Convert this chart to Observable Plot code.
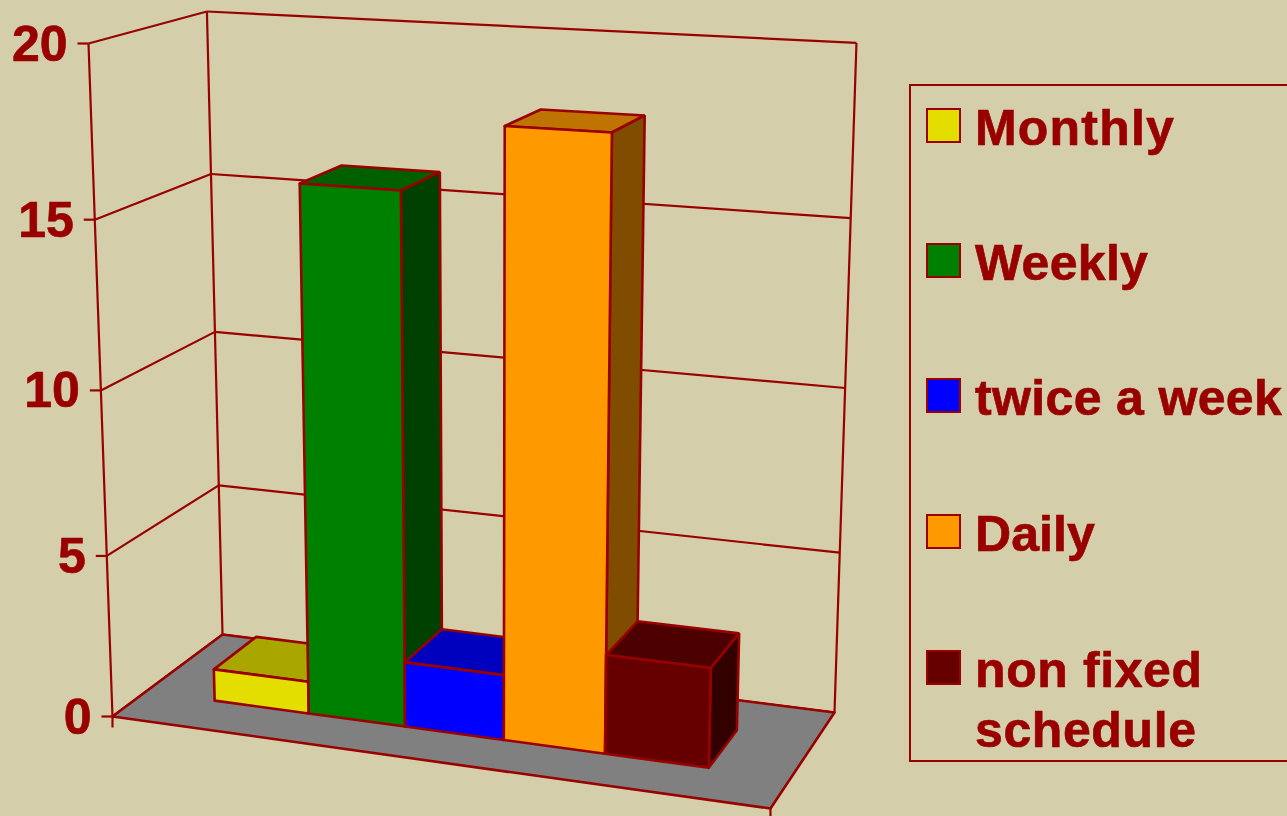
<!DOCTYPE html>
<html>
<head>
<meta charset="utf-8">
<script src="https://cdn.jsdelivr.net/npm/d3@7"></script>
<script src="https://cdn.jsdelivr.net/npm/@observablehq/plot@0.6"></script>
<style>
  html, body { margin: 0; padding: 0; width: 1287px; height: 816px; overflow: hidden; background: #d4cfaa; }
  #page { display: flex; align-items: flex-start; width: 1287px; height: 816px; overflow: hidden; }
  #chart { flex: 0 0 909px; width: 909px; height: 816px; }
  #legend {
    position: relative; flex: 0 0 500px; box-sizing: border-box; margin-top: 84px; height: 678px;
    border: 2px solid #990000; font: bold 50px "Liberation Sans", Arial, sans-serif; color: #990000;
    -webkit-text-stroke: 0.7px #990000;
  }
  .entry { position: absolute; left: 15px; display: flex; align-items: flex-start; }
  .swatch { box-sizing: border-box; width: 35px; height: 35px; border: 2px solid #990000; margin-top: -1px; margin-right: 14px; flex: none; }
  .label { line-height: 60px; margin-top: -11px; white-space: pre-line; }
</style>
</head>
<body>
<div id="page"><div id="chart"></div><div id="legend"></div></div>
<script>
// Data
const categories = ["Monthly", "Weekly", "twice a week", "Daily", "non fixed\nschedule"];
const values = [1, 16, 2, 18, 3];
const ticks = [0, 5, 10, 15, 20];

// Style
const frontColors = ["#e3dd00", "#008000", "#0000ff", "#ff9900", "#660000"];
const topColors = ["#aaa600", "#006000", "#0000bf", "#bf7300", "#4d0000"];
const sideColors = ["#726f00", "#004000", "#000080", "#804d00", "#330000"];
const labelSpacing = [1.2, 0.3, 0.35, 0.1, 0.6];
const ink = "#990000";
const floorColor = "#808080";
const maxValue = 20;

// Perspective camera of the 3D column chart: u across, d into the depth, value upward
const barStart = 0.114, barStep = 0.1536, depthFront = 0.29, depthBack = 0.69;
function project(u, d, value) {
  const h = value / maxValue;
  const w = 1 - 0.0781 * u + 0.0833 * d - 0.06 * h;
  return {
    x: (112 + 597.84 * u + 128.5 * d - 29.28 * h) / w,
    y: (716 + 28.87 * u - 29.17 * d - 675.58 * h) / w
  };
}
function polygon(id, color, corners) {
  return [...corners, corners[0]].map(([u, d, v]) => ({id, color, ...project(u, d, v)}));
}

const floor = polygon("floor", floorColor, [[0, 0, 0], [1, 0, 0], [1, 1, 0], [0, 1, 0]]);

const walls = [];
for (const t of ticks) {
  walls.push({a: project(0, 0, t), b: project(0, 1, t)});
  walls.push({a: project(0, 1, t), b: project(1, 1, t)});
}
for (const [u, d] of [[0, 0], [0, 1], [1, 1]]) {
  walls.push({a: project(u, d, 0), b: project(u, d, maxValue)});
}

const faces = values.flatMap((v, i) => {
  const u0 = barStart + i * barStep, u1 = u0 + barStep;
  const d0 = depthFront, d1 = depthBack;
  return [
    ...polygon(`top${i}`, topColors[i], [[u0, d0, v], [u1, d0, v], [u1, d1, v], [u0, d1, v]]),
    ...polygon(`side${i}`, sideColors[i], [[u1, d0, 0], [u1, d1, 0], [u1, d1, v], [u1, d0, v]]),
    ...polygon(`front${i}`, frontColors[i], [[u0, d0, 0], [u1, d0, 0], [u1, d0, v], [u0, d0, v]])
  ];
});

const tickRows = ticks.map(t => ({t, ...project(0, 0, t)}));
const tickLen = 11;
const droppers = [project(0, 0, 0), project(1, 0, 0)];

const plot = Plot.plot({
  width: 909,
  height: 816,
  margin: 0,
  x: {domain: [0, 909], range: [0, 909], axis: null},
  y: {domain: [0, 816], range: [0, 816], axis: null},
  color: {type: "identity"},
  style: {background: "transparent", overflow: "visible"},
  marks: [
    Plot.link(walls, {x1: d => d.a.x, y1: d => d.a.y, x2: d => d.b.x, y2: d => d.b.y, stroke: ink, strokeWidth: 2.2}),
    Plot.line(floor, {x: "x", y: "y", z: "id", fill: "color", stroke: ink, strokeWidth: 2.6, curve: "linear"}),
    Plot.link(droppers, {x1: "x", y1: "y", x2: "x", y2: d => d.y + tickLen, stroke: ink, strokeWidth: 2.2}),
    Plot.link(tickRows, {x1: "x", y1: "y", x2: d => d.x - tickLen, y2: "y", stroke: ink, strokeWidth: 2.2}),
    Plot.text(tickRows, {
      x: "x", y: "y", text: d => String(d.t), textAnchor: "end", dx: -21, dy: 1,
      fontSize: 50, fontWeight: "bold", fontFamily: "Liberation Sans", fill: ink,
      stroke: ink, strokeWidth: 0.7
    }),
    Plot.line(faces, {x: "x", y: "y", z: "id", fill: "color", stroke: ink, strokeWidth: 2.6, strokeLinejoin: "miter", curve: "linear"})
  ]
});
document.getElementById("chart").appendChild(plot);

// Legend
const entryTops = [23, 158, 293, 429, 565];
const legend = document.getElementById("legend");
categories.forEach((name, i) => {
  const row = document.createElement("div");
  row.className = "entry";
  row.style.top = entryTops[i] + "px";
  const sw = document.createElement("div");
  sw.className = "swatch";
  sw.style.background = frontColors[i];
  const lab = document.createElement("div");
  lab.className = "label";
  lab.style.letterSpacing = labelSpacing[i] + "px";
  lab.textContent = name;
  row.append(sw, lab);
  legend.append(row);
});
</script>
</body>
</html>
